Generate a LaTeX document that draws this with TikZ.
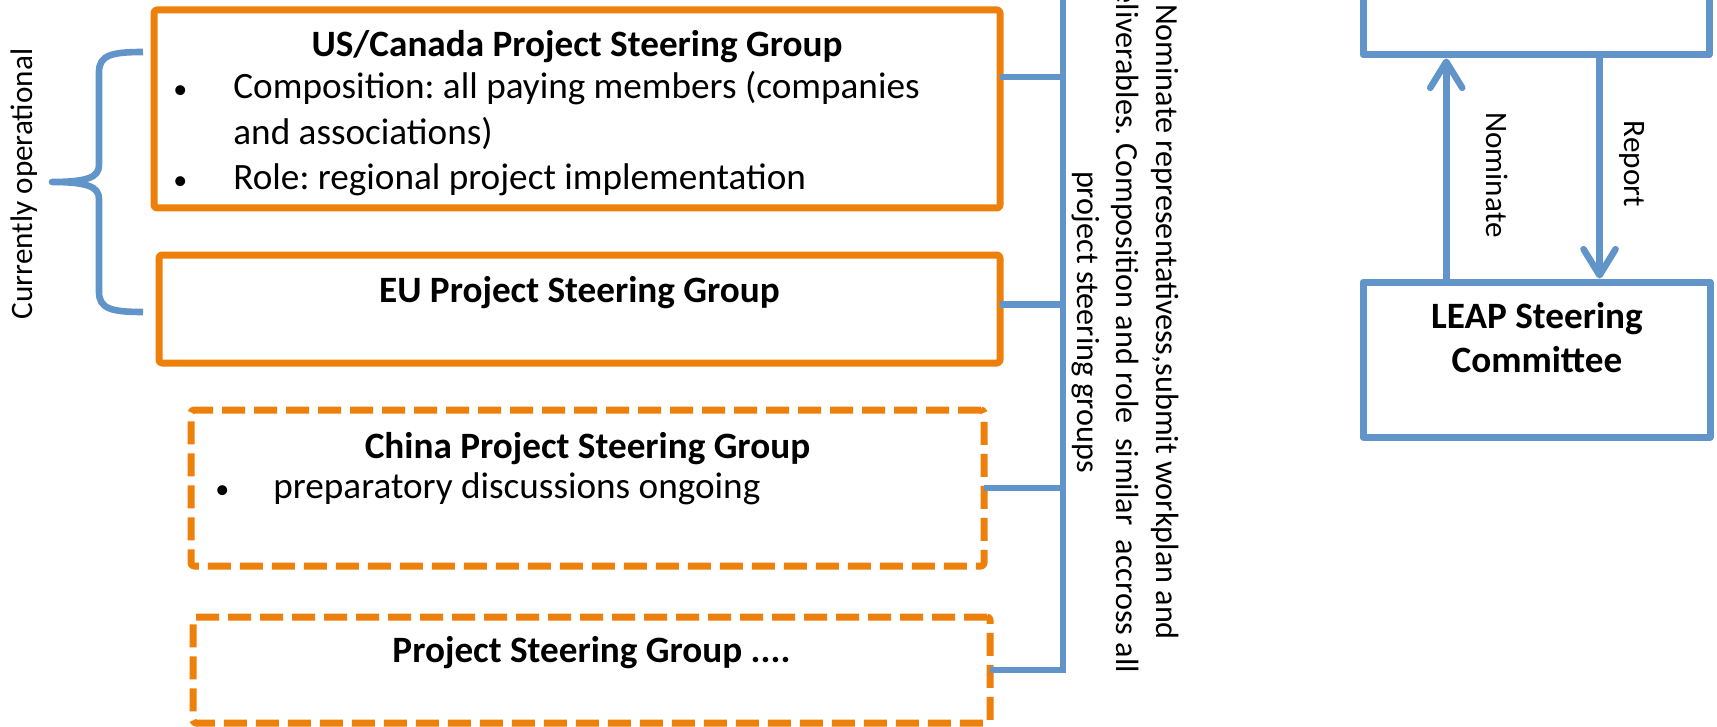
\documentclass[tikz,border=0pt]{standalone}
\usepackage{fontspec}
\setmainfont{Carlito}
\usetikzlibrary{arrows.meta,calc}
\definecolor{steerorange}{RGB}{236,128,10}
\definecolor{steerblue}{RGB}{97,148,200}
\frenchspacing
\newcommand{\smallbullet}{{\fontsize{14}{14}\selectfont\textbullet}}
\begin{document}
\begin{tikzpicture}[x=0.5pt, y=-0.5pt, line join=round, >={Straight Barb[length=13pt,width=16pt,round]},
  groupbox/.style={draw=steerorange, line width=3.5pt, rounded corners=1.5pt, inner sep=0pt},
  plannedbox/.style={groupbox, dash pattern=on 11.5pt off 4.5pt},
  leapbox/.style={draw=steerblue, line width=3.5pt, inner sep=0pt},
  link/.style={draw=steerblue, line width=3.3pt, line cap=rect},
  flow/.style={link, line cap=butt, ->},
  boxtext/.style={inner sep=0pt, font=\fontsize{18.6}{23}\selectfont},
  sidetext/.style={inner sep=0pt, font=\fontsize{15.6}{19.5}\selectfont}]
\useasboundingbox (0,0) rectangle (1717,727);
\clip (0,0) rectangle (1717,727);
% regional steering groups
\node[groupbox, minimum width=423pt, minimum height=99pt] (us) at (577,109) {};
\node[groupbox, minimum width=420.5pt, minimum height=54pt] (eu) at (579.5,309) {};
\node[plannedbox, minimum width=396.5pt, minimum height=78pt] (china) at (587.5,488) {};
\node[plannedbox, minimum width=398.5pt, minimum height=53pt] (other) at (591.5,670) {};
\node[boxtext, anchor=base] (ustitle) at (577,57) {\bfseries US/Canada Project Steering Group};
\node[boxtext, anchor=base west] (usrowa) at (173,99) {\makebox[30pt][l]{\smallbullet}Composition: all paying members (companies};
\node[boxtext, anchor=base west] (usrowb) at (233,145) {and associations)};
\node[boxtext, anchor=base west] (usrowc) at (173,190) {\makebox[30pt][l]{\smallbullet}Role: regional project implementation};
\node[boxtext, anchor=base] (eutitle) at (579.5,302) {\bfseries EU Project Steering Group};
\node[boxtext, anchor=base] (chinatitle) at (587.5,458) {\bfseries China Project Steering Group};
\node[boxtext, anchor=base west] (chinarow) at (215,498) {\makebox[29pt][l]{\smallbullet}preparatory discussions ongoing};
\node[boxtext, anchor=base] (othertitle) at (591.5,662) {\bfseries Project Steering Group ....};
% brace
\draw[link, line cap=butt] (143,52) .. controls (112,52) and (99,55) .. (99,72) -- (99,165)
  .. controls (99,177) and (88,182) .. (52,182) .. controls (88,182) and (99,187) .. (99,199)
  -- (99,292) .. controls (99,309) and (112,312) .. (143,312);
\node[sidetext, rotate=90] (current) at (24,184) {Currently operational};
% bus to the steering committee
\coordinate (bustop) at (1063,-10);
\coordinate (busend) at (1063,670);
\draw[link] (bustop) -- (busend);
\foreach \g/\f in {us/0.343, eu/0.46, china/0.5, other/0.5}{
  \coordinate (stub) at ($(\g.north east)!\f!(\g.south east)$);
  \draw[link] (stub) -- (stub -| busend);
}
\node[sidetext, font=\fontsize{16.1}{19.8}\selectfont, rotate=-90, align=center] (remit) at (1125,322) {Nominate representativess,submit workplan and\\deliverables. Composition and role~ similar~ accross all\\project steering groups};
% LEAP
\node[leapbox, minimum width=173pt, minimum height=77.5pt] (upper) at (1536,-22.5) {};
\node[leapbox, minimum width=173.5pt, minimum height=77.5pt] (leap) at (1536.5,359.5) {};
\node[boxtext, anchor=base] (leapa) at (1537,328) {\bfseries LEAP Steering};
\node[boxtext, anchor=base] (leapb) at (1537,372) {\bfseries Committee};
\coordinate (nomfoot) at ($(leap.north west)!0.245!(leap.north east)$);
\coordinate (repfoot) at ($(upper.south west)!0.68!(upper.south east)$);
\draw[flow] (nomfoot) -- (nomfoot |- upper.south);
\draw[flow] (repfoot) -- (repfoot |- leap.north);
\node[sidetext, rotate=-90] (nomlabel) at (1497,175) {Nominate};
\node[sidetext, rotate=-90] (replabel) at (1632,164) {Report};
\end{tikzpicture}
\end{document}
